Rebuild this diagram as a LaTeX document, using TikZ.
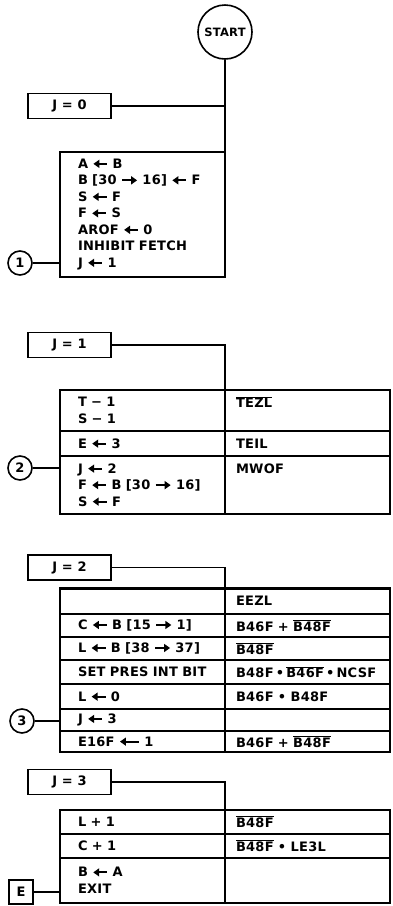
\documentclass[tikz,border=0pt]{standalone}
\usepackage{fontspec}
\setmainfont{DejaVu Sans}[LetterSpace=2]
\usetikzlibrary{arrows.meta,positioning}

\newcommand{\lar}[1][14pt]{\tikz[baseline=-4.6pt]\draw[line width=2pt,{Triangle[length=6pt,width=8pt]}-](0pt,0pt)--(#1,0pt);}
\newcommand{\rar}[1][15pt]{\tikz[baseline=-4.6pt]\draw[line width=2pt,-{Triangle[length=6pt,width=8pt]}](0pt,0pt)--(#1,0pt);}
\newcommand{\ovl}[1]{$\overline{\mbox{#1}}$}

\begin{document}
\begin{tikzpicture}[
  x=1pt, y=-1pt,
  font=\bfseries\fontsize{13}{16.5}\selectfont,
  line width=1.6pt,
  jbox/.style={draw, outer sep=0pt, minimum width=83pt, minimum height=25pt, inner sep=0pt},
  tag/.style={circle, draw, minimum size=24pt, inner sep=0pt},
  lcell/.style={draw, outer sep=0pt, minimum width=165pt, text width=129pt, inner xsep=18pt, inner ysep=2pt, align=left},
  rcell/.style={draw, outer sep=0pt, minimum width=165pt, text width=143pt, inner xsep=11pt, inner ysep=2pt, align=left}
]
\useasboundingbox (0,0) rectangle (392,906);

\node[circle, draw, minimum size=54pt, inner sep=0pt, font=\bfseries\fontsize{11.5}{13}\selectfont] (start) at (225,32) {START};
\node[jbox] (jzero) at (69.5,106) {J = 0};
\node[lcell, anchor=north west, minimum height=125pt] (init) at (60,152)
  {A \lar{} B\\B [30 \rar{} 16] \lar{} F\\S \lar{} F\\F \lar{} S\\AROF \lar{} 0\\INHIBIT FETCH\\J \lar{} 1};
\node[tag] (one) at (20,263) {1};
\draw (start.south) -- (init.north east);
\draw (jzero) -- (jzero -| init.north east);
\draw (one) -- (one -| init.west);

\node[jbox] (jone) at (69.5,345) {J = 1};
\node[lcell, anchor=north west, minimum height=41pt] (t2a) at (60,390) {T − 1\\S − 1};
\node[rcell, minimum height=41pt, right=0pt of t2a] (t2aR) {\ovl{TEZL}\\\mbox{}};
\node[lcell, minimum height=25pt, below=0pt of t2a] (t2b) {E \lar{} 3};
\node[rcell, minimum height=25pt, right=0pt of t2b] (t2bR) {TEIL};
\node[lcell, minimum height=58pt, below=0pt of t2b] (t2c) {J \lar{} 2\\F \lar{} B [30 \rar{} 16]\\S \lar{} F};
\node[rcell, minimum height=58pt, right=0pt of t2c] (t2cR) {MWOF\\\mbox{}\\\mbox{}};
\node[tag] (two) at (20,468) {2};
\draw (jone) -| (t2a.north east);
\draw (two) -- (two -| t2c.west);

\node[jbox] (jtwo) at (69.5,567.5) {J = 2};
\node[lcell, anchor=north west, minimum height=26pt] (t3a) at (60,588) {};
\node[rcell, minimum height=26pt, right=0pt of t3a] (t3aR) {EEZL};
\node[lcell, minimum height=23pt, below=0pt of t3a] (t3b) {C \lar{} B [15 \rar{} 1]};
\node[rcell, minimum height=23pt, right=0pt of t3b] (t3bR) {B46F + \ovl{B48F}};
\node[lcell, minimum height=23pt, below=0pt of t3b] (t3c) {L \lar{} B [38 \rar{} 37]};
\node[rcell, minimum height=23pt, right=0pt of t3c] (t3cR) {\ovl{B48F}};
\node[lcell, minimum height=24pt, below=0pt of t3c] (t3d) {SET PRES INT BIT};
\node[rcell, minimum height=24pt, right=0pt of t3d] (t3dR) {\mbox{B48F\,\textbullet\,\ovl{B46F}\,\textbullet\,NCSF}};
\node[lcell, minimum height=25pt, below=0pt of t3d] (t3e) {L \lar{} 0};
\node[rcell, minimum height=25pt, right=0pt of t3e] (t3eR) {B46F \textbullet{} B48F};
\node[lcell, minimum height=22pt, below=0pt of t3e] (t3f) {J \lar{} 3};
\node[rcell, minimum height=22pt, right=0pt of t3f] (t3fR) {};
\node[lcell, minimum height=21pt, below=0pt of t3f] (t3g) {E16F \lar[19pt]{} 1};
\node[rcell, minimum height=21pt, right=0pt of t3g] (t3gR) {B46F + \ovl{B48F}};
\node[tag] (three) at (22,721) {3};
\draw[line width=3pt] (t3a.north west) -- (t3aR.north east);
\draw (jtwo) -| (t3a.north east);
\draw (three) -- (three -| t3f.west);

\node[jbox] (jthree) at (69.5,782) {J = 3};
\node[lcell, anchor=north west, minimum height=24pt] (t4a) at (60,810) {L + 1};
\node[rcell, minimum height=24pt, right=0pt of t4a] (t4aR) {\ovl{B48F}};
\node[lcell, minimum height=24pt, below=0pt of t4a] (t4b) {C + 1};
\node[rcell, minimum height=24pt, right=0pt of t4b] (t4bR) {\ovl{B48F} \textbullet{} LE3L};
\node[lcell, minimum height=45pt, below=0pt of t4b] (t4c) {B \lar{} A\\EXIT};
\node[rcell, minimum height=45pt, right=0pt of t4c] (t4cR) {};
\node[draw, minimum size=24pt, inner sep=0pt] (exitbox) at (21,892) {E};
\draw (jthree) -| (t4a.north east);
\draw (exitbox) -- (exitbox -| t4c.west);
\end{tikzpicture}
\end{document}
